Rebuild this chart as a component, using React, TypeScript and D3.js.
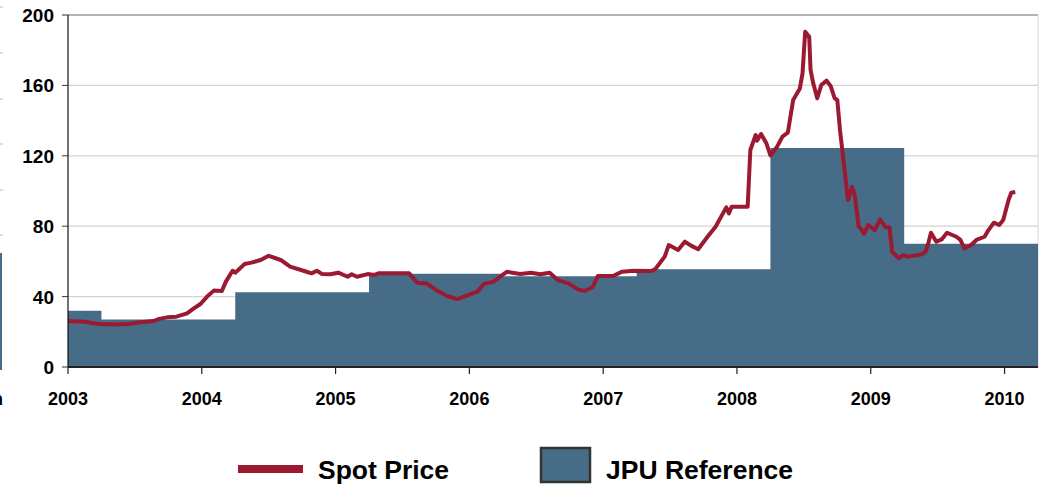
import { useEffect, useRef } from "react";
import * as d3 from "d3";

// JPU reference price: level that holds from each start year until the next
const jpuStarts = [2003.0, 2003.25, 2004.25, 2005.25, 2006.25, 2007.25, 2008.25, 2009.25, 2010.25];
const jpuValues = [32, 27, 42.5, 53, 51.5, 55.5, 124.5, 70, 70];

// spot price (decimal years)
const spotYears = [
  2003.0, 2003.13, 2003.19, 2003.24, 2003.34, 2003.46, 2003.54, 2003.64, 2003.68, 2003.74,
  2003.81, 2003.89, 2003.94, 2003.99, 2004.04, 2004.09, 2004.15, 2004.18, 2004.23, 2004.25,
  2004.32, 2004.37, 2004.44, 2004.5, 2004.59, 2004.66, 2004.76, 2004.82, 2004.86, 2004.9,
  2004.96, 2005.02, 2005.09, 2005.12, 2005.16, 2005.24, 2005.29, 2005.32, 2005.55, 2005.61,
  2005.68, 2005.75, 2005.83, 2005.91, 2005.98, 2006.06, 2006.11, 2006.18, 2006.23, 2006.28,
  2006.38, 2006.46, 2006.53, 2006.6, 2006.66, 2006.74, 2006.81, 2006.86, 2006.92, 2006.96,
  2007.08, 2007.14, 2007.23, 2007.36, 2007.39, 2007.46, 2007.49, 2007.56, 2007.61, 2007.66,
  2007.71, 2007.78, 2007.84, 2007.92, 2007.94, 2007.96, 2008.05, 2008.08, 2008.1, 2008.14,
  2008.15, 2008.18, 2008.22, 2008.25, 2008.3, 2008.34, 2008.38, 2008.42, 2008.47, 2008.49,
  2008.51, 2008.54, 2008.55, 2008.57, 2008.6, 2008.63, 2008.67, 2008.7, 2008.73, 2008.75,
  2008.77, 2008.81, 2008.83, 2008.86, 2008.88, 2008.91, 2008.93, 2008.95, 2008.98, 2009.03,
  2009.07, 2009.11, 2009.14, 2009.16, 2009.21, 2009.24, 2009.28, 2009.38, 2009.41, 2009.43,
  2009.45, 2009.49, 2009.53, 2009.57, 2009.64, 2009.67, 2009.7, 2009.75, 2009.79, 2009.85,
  2009.88, 2009.92, 2009.96, 2009.99, 2010.03, 2010.05, 2010.08,
];
const spotPrices = [
  26.1, 25.7, 24.8, 24.4, 24.2, 24.4, 25.4, 26.1, 27.3, 28.2,
  28.6, 30.5, 33.3, 35.8, 40, 43.4, 43.2, 48.5, 54.7, 53.6,
  58.5, 59.3, 60.8, 63.2, 60.8, 57, 54.7, 53.2, 54.7, 52.8,
  52.7, 53.6, 51.3, 52.7, 51.3, 52.8, 52.3, 53.2, 53.2, 47.9,
  47.5, 43.8, 40.5, 38.6, 40.5, 42.8, 47.2, 48.5, 51.3, 54.1,
  52.8, 53.6, 52.7, 53.6, 49.4, 47.5, 44.1, 43.2, 45.3, 51.7,
  51.9, 54.1, 54.7, 54.5, 55.7, 62.7, 69.3, 66.5, 71.2, 68.8,
  66.9, 74, 79.7, 90.7, 87.3, 91.1, 91.1, 91.1, 123.3, 131.8,
  128.6, 132.4, 127.1, 120.2, 125.2, 130.9, 133.1, 151.7, 158.3, 166.8,
  190.5, 187.7, 168.8, 161.2, 152.7, 160.2, 162.7, 159.7, 152.7, 151.7,
  134.7, 108.1, 94.9, 102.4, 97.7, 79.7, 78.2, 75.6, 80.7, 77.8,
  83.9, 79.4, 79.4, 65.5, 61.8, 63.6, 62.7, 64, 65.5, 70.3,
  76.3, 71.2, 72.5, 76.3, 74, 72.2, 67.4, 69.3, 72.2, 74,
  77.8, 82, 80.7, 83.5, 94.9, 99, 99.4,
];

const yTicks = [0, 40, 80, 120, 160, 200];
const xTicks = [2003, 2004, 2005, 2006, 2007, 2008, 2009, 2010];

const seriesNames = ["Spot Price", "JPU Reference"];

const AREA_COLOR = "#466c87";
const LINE_COLOR = "#9b1a31";
const FONT = "'Liberation Sans', Arial, sans-serif";

export default function App() {
  const svgRef = useRef<SVGSVGElement | null>(null);

  useEffect(() => {
    const svg = d3.select(svgRef.current);
    svg.selectAll("*").remove();

    const width = 1046;
    const height = 486;
    const margin = { top: 15, right: 8, bottom: 119, left: 68 };

    const x = d3
      .scaleLinear()
      .domain([2003, 2010.25])
      .range([margin.left, width - margin.right]);

    const y = d3
      .scaleLinear()
      .domain([0, 200])
      .range([height - margin.bottom, margin.top]);

    // bits of a neighbouring chart cut off at the left edge
    const stray = svg.append("g");
    stray
      .append("rect")
      .attr("x", 0)
      .attr("y", 253)
      .attr("width", 2)
      .attr("height", 117)
      .attr("fill", AREA_COLOR);
    [7, 53, 99, 144, 190, 235].forEach((yy) => {
      stray
        .append("line")
        .attr("x1", 0)
        .attr("x2", 3)
        .attr("y1", yy)
        .attr("y2", yy)
        .attr("stroke", "#bbb")
        .attr("stroke-width", 1);
    });
    stray
      .append("text")
      .attr("x", -8)
      .attr("y", 405)
      .attr("font-family", FONT)
      .attr("font-weight", "bold")
      .attr("font-size", 18)
      .text("n");

    // gridlines
    svg
      .append("g")
      .selectAll("line")
      .data(yTicks.filter((t) => t > 0))
      .join("line")
      .attr("x1", margin.left)
      .attr("x2", width - margin.right)
      .attr("y1", (d) => y(d))
      .attr("y2", (d) => y(d))
      .attr("stroke", (d) => (d === 200 ? "#9a9a9a" : "#d4d4d4"))
      .attr("stroke-width", (d) => (d === 200 ? 1.5 : 1.2));

    // right frame
    svg
      .append("line")
      .attr("x1", width - margin.right)
      .attr("x2", width - margin.right)
      .attr("y1", y(200))
      .attr("y2", y(0))
      .attr("stroke", "#d4d4d4")
      .attr("stroke-width", 1);

    // JPU reference area
    const jpuData = jpuStarts.map((s, i) => ({ year: s, value: jpuValues[i] }));
    svg
      .append("path")
      .datum(jpuData)
      .attr("fill", AREA_COLOR)
      .attr(
        "d",
        d3
          .area<{ year: number; value: number }>()
          .curve(d3.curveStepAfter)
          .x((d) => x(d.year))
          .y0(y(0))
          .y1((d) => y(d.value))
      );

    // spot price line
    const spotData = spotYears.map((yr, i) => ({ year: yr, value: spotPrices[i] }));
    svg
      .append("path")
      .datum(spotData)
      .attr("fill", "none")
      .attr("stroke", LINE_COLOR)
      .attr("stroke-width", 4)
      .attr("stroke-linejoin", "round")
      .attr(
        "d",
        d3
          .line<{ year: number; value: number }>()
          .x((d) => x(d.year))
          .y((d) => y(d.value))
      );

    // y axis
    svg
      .append("line")
      .attr("x1", margin.left)
      .attr("x2", margin.left)
      .attr("y1", y(200))
      .attr("y2", y(0))
      .attr("stroke", "#111")
      .attr("stroke-width", 1.2);

    const yAxis = svg.append("g");
    yAxis
      .selectAll("line")
      .data(yTicks)
      .join("line")
      .attr("x1", margin.left - 6)
      .attr("x2", margin.left)
      .attr("y1", (d) => y(d))
      .attr("y2", (d) => y(d))
      .attr("stroke", "#333")
      .attr("stroke-width", 1);
    yAxis
      .selectAll("text")
      .data(yTicks)
      .join("text")
      .attr("x", 54)
      .attr("y", (d) => y(d) + 7)
      .attr("text-anchor", "end")
      .attr("font-family", FONT)
      .attr("font-weight", "bold")
      .attr("font-size", 19)
      .attr("fill", "#000")
      .text((d) => d);

    // x axis
    svg
      .append("line")
      .attr("x1", margin.left)
      .attr("x2", width - margin.right)
      .attr("y1", y(0))
      .attr("y2", y(0))
      .attr("stroke", "#222")
      .attr("stroke-width", 2);

    const xAxis = svg.append("g");
    xAxis
      .selectAll("line")
      .data(xTicks)
      .join("line")
      .attr("x1", (d) => x(d))
      .attr("x2", (d) => x(d))
      .attr("y1", y(0))
      .attr("y2", y(0) + 7)
      .attr("stroke", "#222")
      .attr("stroke-width", 1.2);
    xAxis
      .selectAll("text")
      .data(xTicks)
      .join("text")
      .attr("x", (d) => x(d))
      .attr("y", 405)
      .attr("text-anchor", "middle")
      .attr("font-family", FONT)
      .attr("font-weight", "bold")
      .attr("font-size", 18)
      .attr("fill", "#000")
      .text((d) => d);

    // legend
    const legend = svg.append("g");
    legend
      .append("line")
      .attr("x1", 238)
      .attr("x2", 303)
      .attr("y1", 469)
      .attr("y2", 469)
      .attr("stroke", LINE_COLOR)
      .attr("stroke-width", 8);
    legend
      .append("text")
      .attr("x", 318)
      .attr("y", 479)
      .attr("font-family", FONT)
      .attr("font-weight", "bold")
      .attr("font-size", 26.5)
      .attr("fill", "#000")
      .text(seriesNames[0]);
    legend
      .append("rect")
      .attr("x", 541)
      .attr("y", 448)
      .attr("width", 49)
      .attr("height", 34)
      .attr("fill", AREA_COLOR)
      .attr("stroke", "#333")
      .attr("stroke-width", 2.5);
    legend
      .append("text")
      .attr("x", 606)
      .attr("y", 479)
      .attr("font-family", FONT)
      .attr("font-weight", "bold")
      .attr("font-size", 26.5)
      .attr("fill", "#000")
      .text(seriesNames[1]);
  }, []);

  return (
    <svg
      ref={svgRef}
      width={1046}
      height={486}
      style={{ position: "absolute", left: 0, top: 0, background: "#fff" }}
    />
  );
}
